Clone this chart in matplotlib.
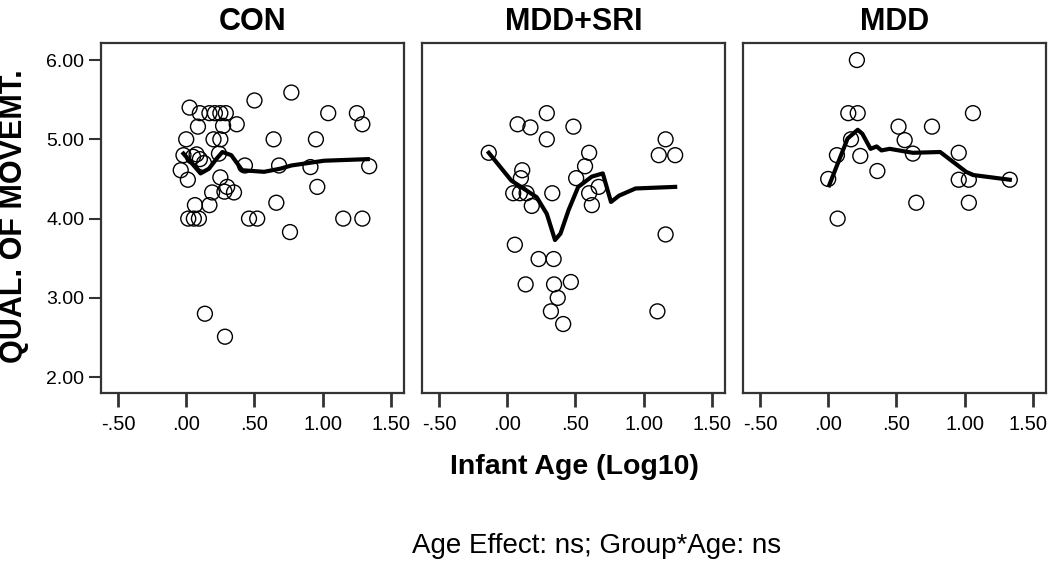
import matplotlib
matplotlib.use("Agg")
import matplotlib.pyplot as plt
from matplotlib.transforms import ScaledTranslation

plt.rcParams['font.family'] = ['Liberation Sans', 'DejaVu Sans']

groups = ["CON", "MDD+SRI", "MDD"]

con_x = [0.025, 0.10, 0.17, 0.21, 0.25, 0.29, 0.086, 0.27, 0.37, 0.50, 0.77, 1.04, 1.25, 1.29,
         0.0, 0.20, 0.25, 0.64, 0.95, -0.02, 0.076, 0.10, 0.13, -0.04, 0.012, 0.24, 0.43, 0.68,
         0.91, 1.34, 0.25, 0.96, 0.19, 0.28, 0.35, 0.66, 0.064, 0.17, 0.015, 0.056, 0.093,
         0.46, 0.52, 1.15, 1.29, 0.76, 0.137, 0.284, 0.05, 0.30]
con_y = [5.40, 5.33, 5.33, 5.33, 5.33, 5.33, 5.16, 5.17, 5.19, 5.49, 5.59, 5.33, 5.33, 5.19,
         5.00, 5.00, 5.00, 5.00, 5.00, 4.80, 4.81, 4.75, 4.70, 4.61, 4.49, 4.82, 4.67, 4.67,
         4.65, 4.66, 4.52, 4.40, 4.33, 4.34, 4.33, 4.20, 4.17, 4.17, 4.00, 4.00, 4.00,
         4.00, 4.00, 4.00, 4.00, 3.83, 2.80, 2.51, 4.78, 4.40]
con_fit_x = [-0.02, 0.03, 0.105, 0.167, 0.22, 0.265, 0.33, 0.41, 0.57, 0.69, 0.77, 1.01, 1.33]
con_fit_y = [4.82, 4.72, 4.57, 4.63, 4.75, 4.84, 4.80, 4.61, 4.59, 4.63, 4.67, 4.73, 4.75]

sri_x = [-0.135, 0.076, 0.17, 0.29, 0.29, 0.485, 0.60, 0.57, 0.505, 0.67, 0.60, 0.62, 0.11,
         0.10, 0.044, 0.093, 0.142, 0.33, 0.18, 1.16, 1.11, 1.23, 1.16, 0.056, 0.23, 0.34,
         0.135, 0.343, 0.466, 0.37, 0.32, 0.41, 1.10]
sri_y = [4.83, 5.19, 5.15, 5.33, 5.00, 5.16, 4.83, 4.66, 4.51, 4.40, 4.32, 4.17, 4.61,
         4.51, 4.32, 4.32, 4.32, 4.32, 4.16, 5.00, 4.80, 4.80, 3.80, 3.67, 3.49, 3.49,
         3.17, 3.17, 3.20, 3.00, 2.83, 2.67, 2.83]
sri_fit_x = [-0.135, 0.03, 0.216, 0.29, 0.35, 0.39, 0.45, 0.52, 0.62, 0.70, 0.76, 0.82, 0.94, 1.23]
sri_fit_y = [4.83, 4.48, 4.27, 4.06, 3.73, 3.81, 4.11, 4.40, 4.53, 4.57, 4.21, 4.29, 4.38, 4.40]

mdd_x = [0.21, 0.147, 0.216, 0.167, 0.064, 0.235, 0.0, 0.36, 0.515, 0.56, 0.62, 0.76, 1.06,
         0.956, 0.956, 1.03, 1.33, 0.645, 1.03, 0.069]
mdd_y = [6.00, 5.33, 5.33, 5.00, 4.80, 4.79, 4.50, 4.60, 5.16, 4.99, 4.82, 5.16, 5.33,
         4.83, 4.49, 4.49, 4.49, 4.20, 4.20, 4.00]
mdd_fit_x = [0.007, 0.142, 0.216, 0.25, 0.31, 0.355, 0.39, 0.45, 0.62, 0.82, 1.01, 1.06, 1.33]
mdd_fit_y = [4.42, 5.01, 5.12, 5.07, 4.88, 4.91, 4.86, 4.88, 4.83, 4.84, 4.59, 4.55, 4.49]

xticks = [-0.5, 0.0, 0.5, 1.0, 1.5]
xticklabels = ["-.50", ".00", ".50", "1.00", "1.50"]
yticks = [2.0, 3.0, 4.0, 5.0, 6.0]
yticklabels = ["2.00", "3.00", "4.00", "5.00", "6.00"]

data = [(con_x, con_y, con_fit_x, con_fit_y),
        (sri_x, sri_y, sri_fit_x, sri_fit_y),
        (mdd_x, mdd_y, mdd_fit_x, mdd_fit_y)]

W, H = 1050, 562
fig = plt.figure(figsize=(W / 100, H / 100), dpi=100)

lefts = [101, 422, 743]
pw = 303
top, bottom = 43, 393
frame_col = "#333333"

for i, (g, (x, y, fx, fy)) in enumerate(zip(groups, data)):
    ax = fig.add_axes([lefts[i] / W, 1 - bottom / H, pw / W, (bottom - top) / H])
    ax.plot(fx, fy, color="black", lw=3.0, solid_joinstyle="round", zorder=3)
    ax.scatter(x, y, s=115, facecolors="none", edgecolors="black", linewidths=1.0, zorder=2)
    ax.set_xlim(-0.624, 1.595)
    ax.set_ylim(1.80, 6.215)
    for sp in ax.spines.values():
        sp.set_linewidth(1.6)
        sp.set_color(frame_col)
    ax.set_xticks(xticks)
    ax.set_xticklabels(xticklabels, fontsize=14.5)
    ax.tick_params(axis="x", direction="out", length=10, width=2.0, color=frame_col, pad=6)
    if i == 2:
        last = ax.get_xticklabels()[-1]
        last.set_transform(last.get_transform() + ScaledTranslation(-5 / 100, 0, fig.dpi_scale_trans))
    if i == 0:
        ax.set_yticks(yticks)
        ax.set_yticklabels(yticklabels, fontsize=14)
        ax.tick_params(axis="y", direction="out", length=9, width=1.5, color=frame_col, pad=3)
    else:
        ax.set_yticks([])
    ax.set_title(g, fontsize=22, fontweight="bold", pad=9)

fig.text(14 / W, 1 - 216 / H, "QUAL. OF MOVEMT.", rotation=90, fontsize=22,
         fontweight="bold", ha="center", va="center")
fig.text(574 / W, 1 - 467 / H, "Infant Age (Log10)", fontsize=20.5, fontweight="bold",
         ha="center", va="center")
fig.text(597 / W, 1 - 546 / H, "Age Effect: ns; Group*Age: ns", fontsize=20,
         ha="center", va="center")

fig.savefig("out.png", dpi=100)
